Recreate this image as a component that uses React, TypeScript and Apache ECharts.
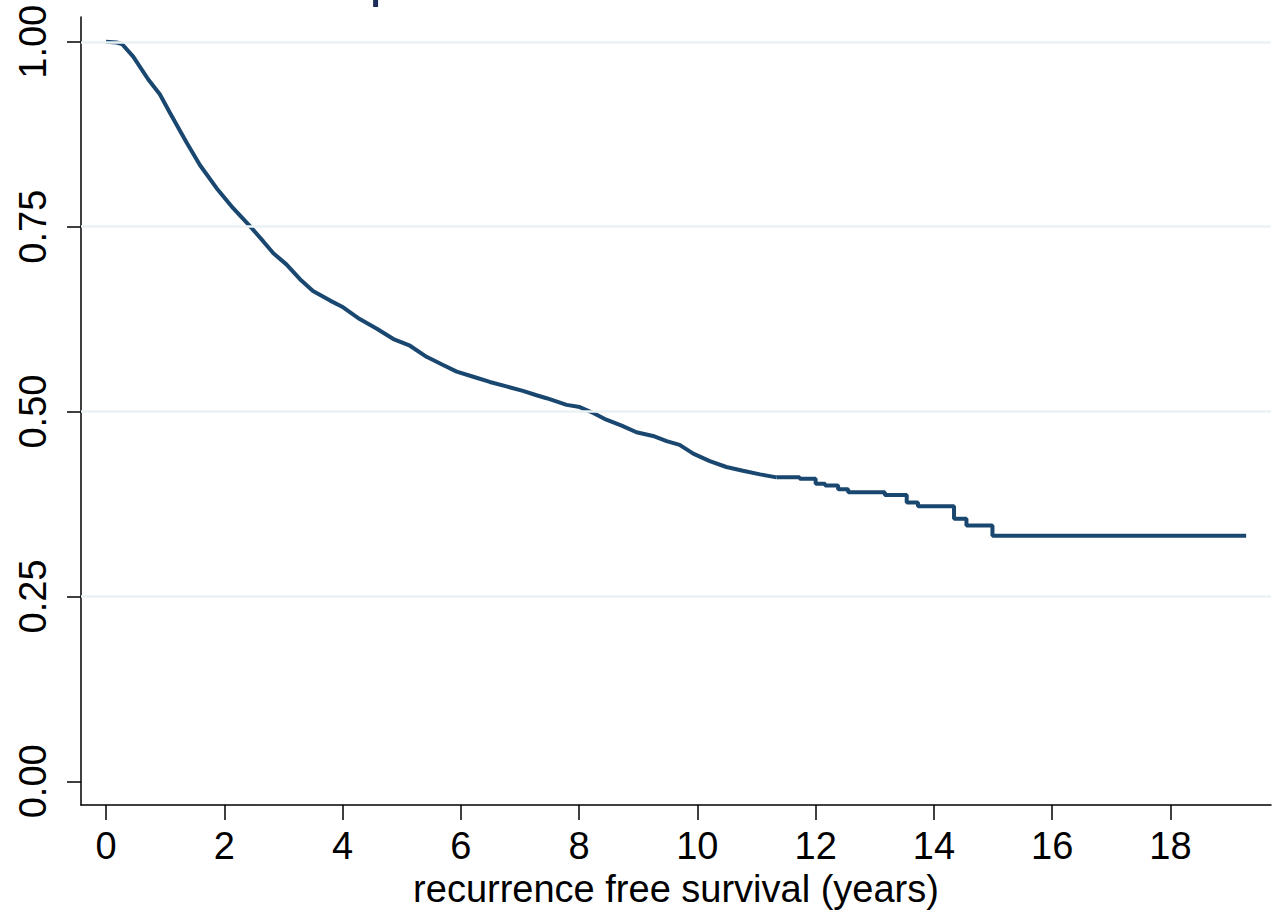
import React, { useEffect, useRef } from "react";
import * as echarts from "echarts";

// Kaplan-Meier estimate
const smoothTimes = [0, 0.18, 0.27, 0.46, 0.715, 0.91, 1.08, 1.36, 1.59, 1.87, 2.15, 2.43, 2.66, 2.83, 3.05, 3.28, 3.5, 3.79, 4.01, 4.29, 4.58, 4.86, 5.14, 5.42, 5.7, 5.93, 6.21, 6.49, 6.77, 7.05, 7.28, 7.45, 7.79, 8.01, 8.24, 8.46, 8.72, 8.97, 9.25, 9.48, 9.7, 9.93, 10.21, 10.49, 10.77, 11.06, 11.34];
const smoothSurv = [1.0, 0.999, 0.997, 0.98, 0.949, 0.929, 0.904, 0.864, 0.833, 0.802, 0.775, 0.751, 0.73, 0.714, 0.699, 0.679, 0.663, 0.65, 0.641, 0.625, 0.612, 0.598, 0.589, 0.574, 0.563, 0.554, 0.547, 0.54, 0.534, 0.528, 0.522, 0.518, 0.509, 0.506, 0.498, 0.489, 0.481, 0.472, 0.467, 0.46, 0.455, 0.443, 0.433, 0.425, 0.42, 0.415, 0.411];
const stepTimes = [11.34, 11.73, 12.0, 12.16, 12.38, 12.55, 13.17, 13.54, 13.73, 14.34, 14.55, 14.99, 19.28];
const stepSurv = [0.411, 0.409, 0.4025, 0.4, 0.395, 0.391, 0.387, 0.377, 0.372, 0.355, 0.346, 0.332, 0.332];

const xTicks = [0, 2, 4, 6, 8, 10, 12, 14, 16, 18];
const yTicks = [0, 0.25, 0.5, 0.75, 1.0];
const gridValues = [0.25, 0.5, 0.75, 1.0];
const titleText = "Kaplan-Meier survival estimate";
const xTitle = "recurrence free survival (years)";

const FONT = "'Liberation Sans', Arial, Helvetica, sans-serif";
const NAVY = "#1a476f";
const FS = 38;

export default function App() {
  const ref = useRef<HTMLDivElement>(null);
  useEffect(() => {
    if (!ref.current) return;
    const chart = echarts.init(ref.current, null, { renderer: "svg" });
    chart.setOption({
      animation: false,
      backgroundColor: "#ffffff",
      textStyle: { fontFamily: FONT },
      graphic: [
        {
          type: "text",
          x: 299.5,
          y: -25,
          silent: true,
          style: {
            text: titleText,
            fontFamily: FONT,
            fontSize: 57,
            fill: "#1e2d5c",
            textAlign: "left",
            textVerticalAlign: "middle",
          },
        },
      ],
      grid: { left: 81, right: 10, top: 17, bottom: 101, containLabel: false },
      xAxis: {
        type: "value",
        min: -0.423,
        max: 19.7,
        name: xTitle,
        nameLocation: "middle",
        nameGap: 64,
        nameTextStyle: { fontSize: FS, color: "#000", fontFamily: FONT },
        axisLine: { show: true, onZero: false, lineStyle: { color: "#000", width: 1.5 } },
        axisTick: { show: true, length: 15, customValues: xTicks, lineStyle: { color: "#000", width: 1.5 } },
        axisLabel: {
          customValues: xTicks,
          fontSize: FS,
          color: "#000",
          fontFamily: FONT,
          margin: 22,
          formatter: (v: number) => String(v),
        },
        splitLine: { show: false },
      },
      yAxis: {
        type: "value",
        min: -0.0322,
        max: 1.0335,
        axisLine: { show: true, onZero: false, lineStyle: { color: "#000", width: 1.5 } },
        axisTick: { show: true, length: 14, customValues: yTicks, lineStyle: { color: "#000", width: 1.5 } },
        axisLabel: {
          customValues: yTicks,
          fontSize: FS,
          color: "#000",
          fontFamily: FONT,
          rotate: 90,
          margin: 29,
          formatter: (v: number) => v.toFixed(2),
        },
        splitLine: { show: false },
      },
      series: [
        {
          type: "line",
          data: [],
          silent: true,
          z: 1,
          markLine: {
            silent: true,
            symbol: "none",
            label: { show: false },
            lineStyle: { color: "#eaf2f3", width: 2.5, type: "solid" },
            data: gridValues.map((v) => ({ yAxis: v })),
          },
        },
        {
          type: "line",
          data: smoothTimes.map((t, i) => [t, smoothSurv[i]]),
          showSymbol: false,
          z: 3,
          lineStyle: { color: NAVY, width: 4 },
        },
        {
          type: "line",
          step: "end",
          data: stepTimes.map((t, i) => [t, stepSurv[i]]),
          showSymbol: false,
          z: 3,
          lineStyle: { color: NAVY, width: 4 },
        },
      ],
    });
    return () => chart.dispose();
  }, []);
  return (
    <div
      ref={ref}
      style={{ position: "fixed", left: 0, top: 0, width: 1281, height: 913, background: "#fff" }}
    />
  );
}
